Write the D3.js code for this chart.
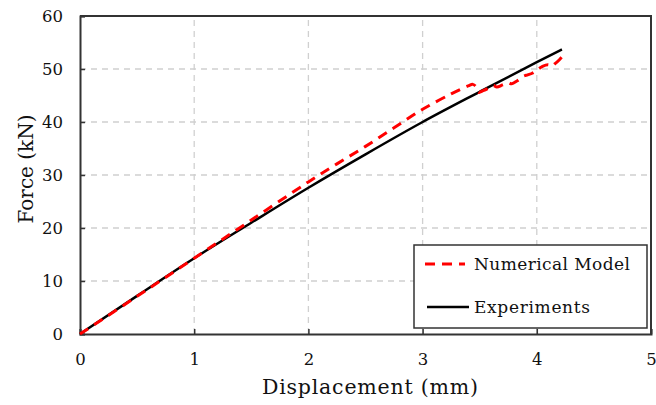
<!DOCTYPE html>
<html><head><meta charset="utf-8">
<script src="https://cdn.jsdelivr.net/npm/d3@7/dist/d3.min.js"></script>
<style>body{margin:0;background:#fff}svg{display:block}</style>
</head><body><svg id="c" width="656" height="405"></svg>
<script>
const xTicks = [0,1,2,3,4,5];
const yTicks = [0,10,20,30,40,50,60];
const expX = [0,0.5,1,1.5,2,2.5,3,3.5,4,4.22];
const expY = [0,7.2,14.3,21.0,27.6,33.9,40.0,45.7,51.3,53.7];
const numX = [0,0.5,1,1.5,2,2.25,2.5,2.75,3,3.25,3.4,3.44,3.47,3.49,3.53,3.58,3.62,3.65,3.70,3.75,3.78,3.83,3.88,3.92,3.96,4.0,4.05,4.1,4.13,4.16,4.2,4.22];
const numY = [0,7.1,14.3,21.5,28.7,32.1,35.4,38.9,42.4,45.3,46.8,47.1,46.6,45.6,45.9,46.4,46.9,46.6,47.0,47.4,47.2,47.8,48.6,48.9,49.2,49.8,50.5,50.8,50.5,51.0,51.8,52.3];
const seriesNames = ["Numerical Model","Experiments"];

const svg = d3.select("#c");
const L=80,R=651,T=16,B=334;
const x = d3.scaleLinear().domain([0,5]).range([L,R]);
const y = d3.scaleLinear().domain([0,60]).range([B,T]);
const font = "'DejaVu Serif', serif";
const ink = "#111";

// grid
svg.append("g").selectAll("line").data(xTicks.slice(1,-1)).join("line")
  .attr("x1",d=>x(d)).attr("x2",d=>x(d)).attr("y1",B).attr("y2",T)
  .attr("stroke","#d0d0d0").attr("stroke-width",1.3).attr("stroke-dasharray","6,5");
svg.append("g").selectAll("line").data(yTicks.slice(1,-1)).join("line")
  .attr("y1",d=>y(d)).attr("y2",d=>y(d)).attr("x1",L).attr("x2",R)
  .attr("stroke","#d0d0d0").attr("stroke-width",1.3).attr("stroke-dasharray","6,5");

// axes
const xa = svg.append("g").attr("transform",`translate(0,${B})`)
  .call(d3.axisBottom(x).tickValues(xTicks).tickSize(-5).tickPadding(19).tickFormat(d3.format("d")));
const ya = svg.append("g").attr("transform",`translate(${L},0)`)
  .call(d3.axisLeft(y).tickValues(yTicks).tickSize(-5).tickPadding(17).tickFormat(d3.format("d")));
[xa,ya].forEach(a=>{
  a.select(".domain").attr("stroke","#333").attr("stroke-width",2);
  a.selectAll(".tick line").attr("stroke","#333").attr("stroke-width",1.5);
  a.selectAll("text").attr("font-family",font).attr("font-size",16.5).attr("fill",ink);
});
// frame top/right
svg.append("path").attr("d",`M${L},${T}H${R}V${B}`).attr("fill","none").attr("stroke","#333").attr("stroke-width",2);

const line = d3.line().x(d=>x(d[0])).y(d=>y(d[1])).curve(d3.curveMonotoneX);
svg.append("path").datum(expX.map((v,i)=>[v,expY[i]])).attr("d",line)
  .attr("fill","none").attr("stroke","#000").attr("stroke-width",2.5);
svg.append("path").datum(numX.map((v,i)=>[v,numY[i]])).attr("d",d3.line().x(d=>x(d[0])).y(d=>y(d[1])).curve(d3.curveCatmullRom))
  .attr("fill","none").attr("stroke","#ff0000").attr("stroke-width",3).attr("stroke-dasharray","10,7");

// legend
const lg = svg.append("g");
lg.append("rect").attr("x",414).attr("y",245).attr("width",233).attr("height",83)
  .attr("fill","#fff").attr("stroke","#333").attr("stroke-width",1.5);
lg.append("line").attr("x1",425).attr("x2",465).attr("y1",264).attr("y2",264)
  .attr("stroke","#ff0000").attr("stroke-width",3).attr("stroke-dasharray","10,7");
lg.append("line").attr("x1",427).attr("x2",469).attr("y1",307).attr("y2",307)
  .attr("stroke","#000").attr("stroke-width",2.5);
lg.append("text").attr("x",474).attr("y",270).text(seriesNames[0])
  .attr("font-family",font).attr("font-size",17).attr("fill",ink).attr("textLength",156);
lg.append("text").attr("x",474).attr("y",313).text(seriesNames[1])
  .attr("font-family",font).attr("font-size",17).attr("fill",ink).attr("textLength",116);

// titles
svg.append("text").attr("x",370).attr("y",394).attr("text-anchor","middle")
  .attr("font-family",font).attr("font-size",20.5).attr("fill",ink).attr("textLength",216).text("Displacement (mm)");
svg.append("text").attr("transform","translate(33,169) rotate(-90)").attr("text-anchor","middle")
  .attr("font-family",font).attr("font-size",20).attr("fill",ink).text("Force (kN)");
</script></body></html>
